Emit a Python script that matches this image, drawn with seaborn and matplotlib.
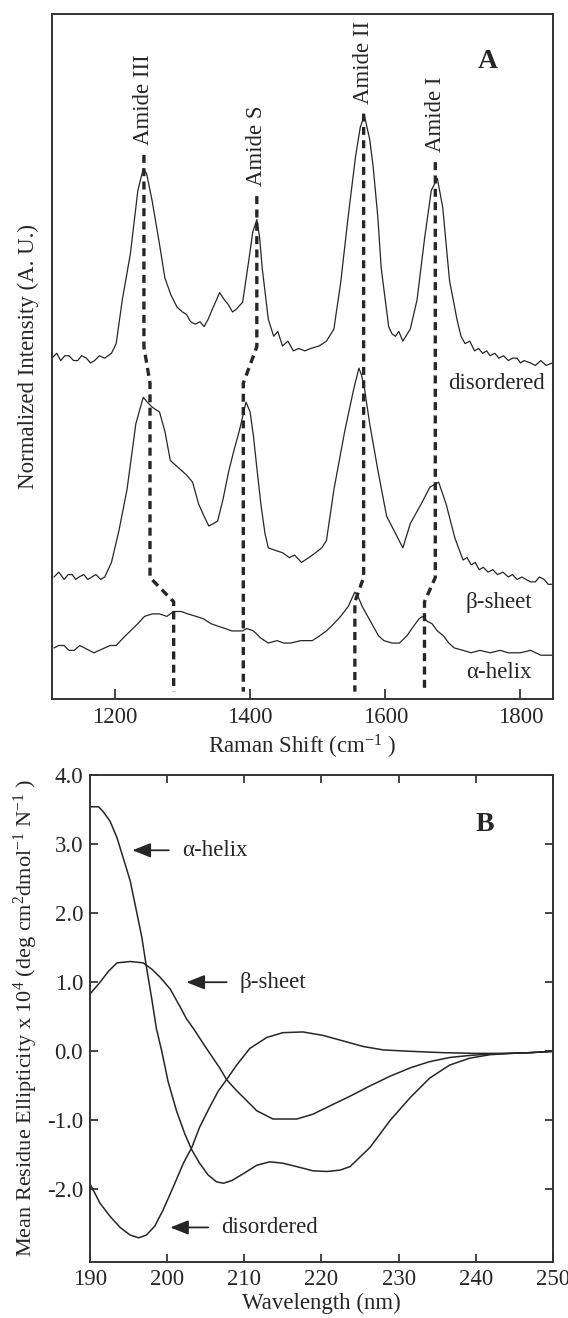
'''
Raman (A) and CD (B) spectra of protein secondary structure.
'''
import numpy as np
import pandas as pd
import seaborn as sns
import matplotlib.pyplot as plt

sns.set_theme(style='ticks')
plt.rcParams['font.family'] = ['Liberation Serif', 'DejaVu Serif']
plt.rcParams['mathtext.fontset'] = 'custom'
plt.rcParams['mathtext.rm'] = 'Liberation Serif'
plt.rcParams['mathtext.it'] = 'Liberation Serif:italic'
ink = '#262626'
fs = 16.5

# ---- panel A: Raman spectra (normalized, disordered Amide II = 1)
dis_shift = [1107, 1114, 1120, 1126, 1132, 1139, 1145, 1151, 1158, 1164, 1170, 1177, 1185, 1195, 1202,
             1211, 1223, 1234, 1242, 1247, 1255, 1266, 1274, 1283, 1292, 1300, 1306, 1312, 1319, 1326,
             1332, 1338, 1344, 1355, 1362, 1368, 1374, 1379, 1389, 1398, 1404, 1410, 1414, 1418, 1427,
             1435, 1441, 1448, 1456, 1464, 1472, 1481, 1490, 1502, 1513, 1524, 1534, 1545, 1556, 1563,
             1569, 1577, 1582, 1589, 1594, 1605, 1610, 1615, 1620, 1626, 1637, 1647, 1658, 1668, 1677,
             1685, 1695, 1706, 1712, 1718, 1725, 1732, 1738, 1744, 1750, 1755, 1762, 1768, 1775, 1782,
             1788, 1795, 1800, 1805, 1815, 1822, 1830, 1838, 1847]
dis_int = [0.00, 0.02, -0.01, 0.01, 0.01, -0.01, -0.01, 0.01, 0.00, -0.02, -0.01, 0.01, 0.00, 0.02, 0.06,
           0.24, 0.43, 0.69, 0.78, 0.76, 0.65, 0.47, 0.33, 0.26, 0.21, 0.19, 0.18, 0.15, 0.14, 0.15,
           0.13, 0.16, 0.20, 0.27, 0.24, 0.22, 0.19, 0.20, 0.23, 0.40, 0.52, 0.57, 0.50, 0.37, 0.16,
           0.09, 0.11, 0.05, 0.07, 0.03, 0.04, 0.03, 0.04, 0.05, 0.07, 0.12, 0.31, 0.58, 0.83, 0.95,
           1.00, 0.90, 0.79, 0.58, 0.37, 0.13, 0.10, 0.09, 0.11, 0.07, 0.12, 0.24, 0.49, 0.69, 0.74,
           0.62, 0.32, 0.16, 0.09, 0.06, 0.07, 0.03, 0.04, 0.02, 0.03, 0.01, 0.02, 0.00, 0.01, -0.01,
           0.00, 0.00, -0.02, -0.01, -0.02, -0.03, -0.01, -0.03, -0.02]

beta_shift = [1110, 1117, 1125, 1131, 1137, 1142, 1147, 1154, 1160, 1166, 1172, 1179, 1185, 1195, 1206,
              1218, 1231, 1242, 1248, 1255, 1260, 1266, 1274, 1282, 1290, 1298, 1306, 1315, 1324, 1332,
              1339, 1346, 1352, 1360, 1368, 1376, 1384, 1394, 1400, 1405, 1410, 1416, 1422, 1427, 1437,
              1448, 1458, 1466, 1476, 1487, 1497, 1506, 1513, 1524, 1540, 1553, 1561, 1565, 1569, 1577,
              1589, 1602, 1615, 1626, 1637, 1645, 1653, 1666, 1679, 1690, 1703, 1715, 1721, 1727, 1733,
              1739, 1745, 1752, 1759, 1766, 1774, 1782, 1788, 1795, 1802, 1808, 1815, 1822, 1828, 1835,
              1841, 1847]
beta_int = [0.00, 0.02, -0.01, 0.01, 0.01, -0.01, 0.00, 0.01, -0.01, 0.00, 0.01, -0.01, 0.00, 0.06, 0.19,
            0.36, 0.63, 0.74, 0.72, 0.70, 0.69, 0.68, 0.60, 0.48, 0.46, 0.44, 0.42, 0.39, 0.30, 0.25,
            0.21, 0.22, 0.23, 0.32, 0.43, 0.52, 0.60, 0.72, 0.68, 0.58, 0.45, 0.30, 0.18, 0.12, 0.11,
            0.10, 0.08, 0.09, 0.06, 0.08, 0.10, 0.12, 0.15, 0.36, 0.60, 0.77, 0.86, 0.83, 0.78, 0.63,
            0.44, 0.25, 0.18, 0.12, 0.22, 0.26, 0.30, 0.37, 0.39, 0.30, 0.16, 0.07, 0.08, 0.05, 0.06,
            0.03, 0.04, 0.02, 0.03, 0.01, 0.02, 0.00, 0.01, -0.01, 0.00, -0.01, -0.02, -0.02, 0.00, -0.01,
            -0.03, -0.03]

alpha_shift = [1110, 1117, 1125, 1132, 1140, 1148, 1155, 1162, 1169, 1177, 1185, 1193, 1202, 1212, 1223,
               1234, 1244, 1255, 1266, 1277, 1287, 1298, 1308, 1320, 1331, 1342, 1352, 1363, 1373, 1389,
               1395, 1405, 1416, 1427, 1440, 1450, 1460, 1475, 1492, 1503, 1513, 1524, 1534, 1545, 1555,
               1560, 1566, 1574, 1582, 1590, 1598, 1610, 1621, 1632, 1642, 1650, 1655, 1662, 1669, 1677,
               1686, 1694, 1702, 1715, 1727, 1740, 1755, 1770, 1782, 1800, 1815, 1830, 1847]
alpha_int = [0.00, 0.01, 0.01, -0.01, -0.01, 0.01, 0.00, -0.01, -0.02, -0.01, 0.00, 0.01, 0.01, 0.04, 0.07,
             0.10, 0.13, 0.14, 0.14, 0.13, 0.15, 0.15, 0.14, 0.13, 0.12, 0.10, 0.09, 0.08, 0.07, 0.07,
             0.08, 0.07, 0.04, 0.02, 0.03, 0.02, 0.02, 0.03, 0.03, 0.05, 0.07, 0.10, 0.13, 0.17, 0.23,
             0.21, 0.17, 0.13, 0.09, 0.05, 0.03, 0.02, 0.02, 0.05, 0.09, 0.12, 0.13, 0.11, 0.10, 0.07,
             0.05, 0.02, 0.00, -0.01, -0.02, -0.01, -0.02, -0.01, -0.02, -0.02, -0.01, -0.03, -0.03]

# band positions used for the dashed guides
amide_names = ['Amide III', 'Amide S', 'Amide II', 'Amide I']
band_dis = [1243, 1410, 1568, 1674]
band_beta = [1252, 1390, 1568, 1674]
band_alpha = [1287, 1390, 1555, 1658]

# ---- panel B: CD spectra (mean residue ellipticity x 10^4)
helix_wl = [190, 191.1, 191.7, 192.6, 193.5, 194.3, 195.2, 196.0, 196.7, 197.3, 198.0, 198.6, 199.3,
            200.1, 201.2, 202.3, 203.2, 204.2, 205.3, 206.4, 207.3, 208.4, 209.9, 211.6, 213.3, 215.0,
            216.8, 218.9, 220.7, 222.4, 223.7, 226.3, 228.9, 231.5, 234.0, 236.6, 239.2, 241.8, 244.4,
            247.0, 250]
helix_mre = [3.54, 3.54, 3.47, 3.33, 3.09, 2.80, 2.47, 2.04, 1.66, 1.23, 0.76, 0.33, 0.00,
             -0.43, -0.86, -1.20, -1.43, -1.62, -1.79, -1.89, -1.91, -1.87, -1.77, -1.65, -1.60, -1.62,
             -1.67, -1.73, -1.74, -1.72, -1.67, -1.39, -1.00, -0.67, -0.39, -0.20, -0.10, -0.05, -0.03,
             -0.02, 0.0]

sheet_wl = [190, 191.3, 192.4, 193.5, 195.2, 196.9, 198.0, 199.1, 200.4, 201.7, 202.5, 203.4, 205.1,
            206.8, 207.7, 209.0, 209.9, 211.6, 213.7, 216.8, 218.9, 221.1, 223.7, 226.3, 228.9, 231.5,
            234.0, 236.6, 239.2, 241.8, 244.4, 247.0, 250]
sheet_mre = [0.83, 1.00, 1.16, 1.28, 1.30, 1.28, 1.19, 1.07, 0.90, 0.64, 0.47, 0.33, 0.04,
             -0.24, -0.41, -0.57, -0.67, -0.86, -0.98, -0.98, -0.91, -0.79, -0.65, -0.50, -0.36, -0.24,
             -0.15, -0.09, -0.06, -0.04, -0.03, -0.02, 0.0]

coil_wl = [190, 191.3, 192.6, 193.9, 195.2, 196.3, 197.3, 198.4, 199.5, 200.8, 202.1, 203.2, 204.2,
           205.5, 206.6, 207.7, 209.0, 210.7, 212.9, 215.0, 217.6, 220.2, 222.8, 225.4, 228.0, 231.5,
           235.8, 240.0, 244.4, 247.0, 250]
coil_mre = [-1.92, -2.20, -2.39, -2.55, -2.66, -2.70, -2.66, -2.53, -2.29, -1.96, -1.62, -1.39, -1.10,
            -0.81, -0.58, -0.41, -0.20, 0.04, 0.20, 0.27, 0.28, 0.23, 0.15, 0.07, 0.02, 0.00,
            -0.02, -0.03, -0.03, -0.02, 0.0]

# stacking offsets for panel A
offsets = {'disordered': 1.403, 'β-sheet': 0.502, 'α-helix': 0.21}

raman = pd.concat([
    pd.DataFrame({'shift': dis_shift, 'intensity': dis_int, 'structure': 'disordered'}),
    pd.DataFrame({'shift': beta_shift, 'intensity': beta_int, 'structure': 'β-sheet'}),
    pd.DataFrame({'shift': alpha_shift, 'intensity': alpha_int, 'structure': 'α-helix'}),
])
raman['stacked'] = raman['intensity'] + raman['structure'].map(offsets)

cd = pd.concat([
    pd.DataFrame({'wl': helix_wl, 'mre': helix_mre, 'structure': 'α-helix'}),
    pd.DataFrame({'wl': sheet_wl, 'mre': sheet_mre, 'structure': 'β-sheet'}),
    pd.DataFrame({'wl': coil_wl, 'mre': coil_mre, 'structure': 'disordered'}),
])

fig = plt.figure(figsize=(5.68, 13.18), dpi=100)
axA = fig.add_axes([0.0915, 0.4697, 0.882, 0.5197])
axB = fig.add_axes([0.1585, 0.0425, 0.815, 0.3695])

# panel A
sns.lineplot(data=raman, x='shift', y='stacked', units='structure', estimator=None,
             color=ink, lw=0.9, sort=True, ax=axA)

tops = [2.24, 2.07, 2.41, 2.21]
for name, d, b, a, top in zip(amide_names, band_dis, band_beta, band_alpha, tops):
    axA.plot([d, d, b, b, a, a], [top, 1.45, 1.30, 0.50, 0.40, 0.03], color=ink,
             lw=2.4, ls=(0, (2.4, 1.6)), solid_capstyle='butt')
    axA.text(d, top + 0.04, name, rotation=90, ha='center', va='bottom', fontsize=fs, color=ink)

axA.text(1752, 2.625, 'A', fontsize=20, fontweight='bold', ha='center', va='center', color=ink)
axA.text(1765, 1.30, 'disordered', fontsize=fs, ha='center', va='center', color=ink)
axA.text(1768, 0.395, 'β-sheet', fontsize=fs, ha='center', va='center', color=ink)
axA.text(1768, 0.107, 'α-helix', fontsize=fs, ha='center', va='center', color=ink)

axA.set_xlim(1107, 1848)
axA.set_ylim(0, 2.82)
axA.set_xticks([1200, 1400, 1600, 1800])
axA.set_yticks([])
axA.tick_params(axis='x', direction='in', length=7, width=1.2, pad=6, labelsize=fs, colors=ink)
axA.set_xlabel('Raman Shift (cm$^{-1}$ )', fontsize=fs, color=ink, labelpad=3)
axA.set_ylabel('Normalized Intensity (A. U.)', fontsize=fs, color=ink, labelpad=9)

# panel B
sns.lineplot(data=cd, x='wl', y='mre', units='structure', estimator=None,
             color=ink, lw=1.1, sort=True, ax=axB)

arrows = [('α-helix', 195.5, 2.91, 201.9), ('β-sheet', 202.5, 1.00, 209.4),
          ('disordered', 200.4, -2.55, 207.0)]
for label, hx, hy, tx in arrows:
    axB.annotate(label, xy=(hx, hy), xytext=(tx, hy), fontsize=fs, color=ink,
                 ha='left', va='center',
                 arrowprops=dict(arrowstyle='-|>,head_length=0.55,head_width=0.22', color=ink,
                                 lw=1.3, shrinkA=7, shrinkB=0, mutation_scale=20))

axB.text(241.2, 3.29, 'B', fontsize=20, fontweight='bold', ha='center', va='center', color=ink)

axB.set_xlim(190, 250)
axB.set_ylim(-3.05, 4.0)
axB.set_xticks(np.arange(190, 251, 10))
yt = [-2.0, -1.0, 0.0, 1.0, 2.0, 3.0, 4.0]
axB.set_yticks(yt)
axB.set_yticklabels(['%.1f' % v for v in yt])
axB.tick_params(direction='in', length=6, width=1.2, top=True, right=True,
                labelsize=fs, colors=ink, pad=5)
axB.set_xlabel('Wavelength (nm)', fontsize=fs, color=ink, labelpad=2)
axB.set_ylabel('Mean Residue Ellipticity x 10$^{4}$ (deg cm$^{2}$dmol$^{-1}$ N$^{-1}$ )',
               fontsize=16, color=ink, labelpad=5)

for ax in (axA, axB):
    for sp in ax.spines.values():
        sp.set_visible(True)
        sp.set_linewidth(1.4)
        sp.set_color('#333333')

fig.savefig('out.png', dpi=100)
